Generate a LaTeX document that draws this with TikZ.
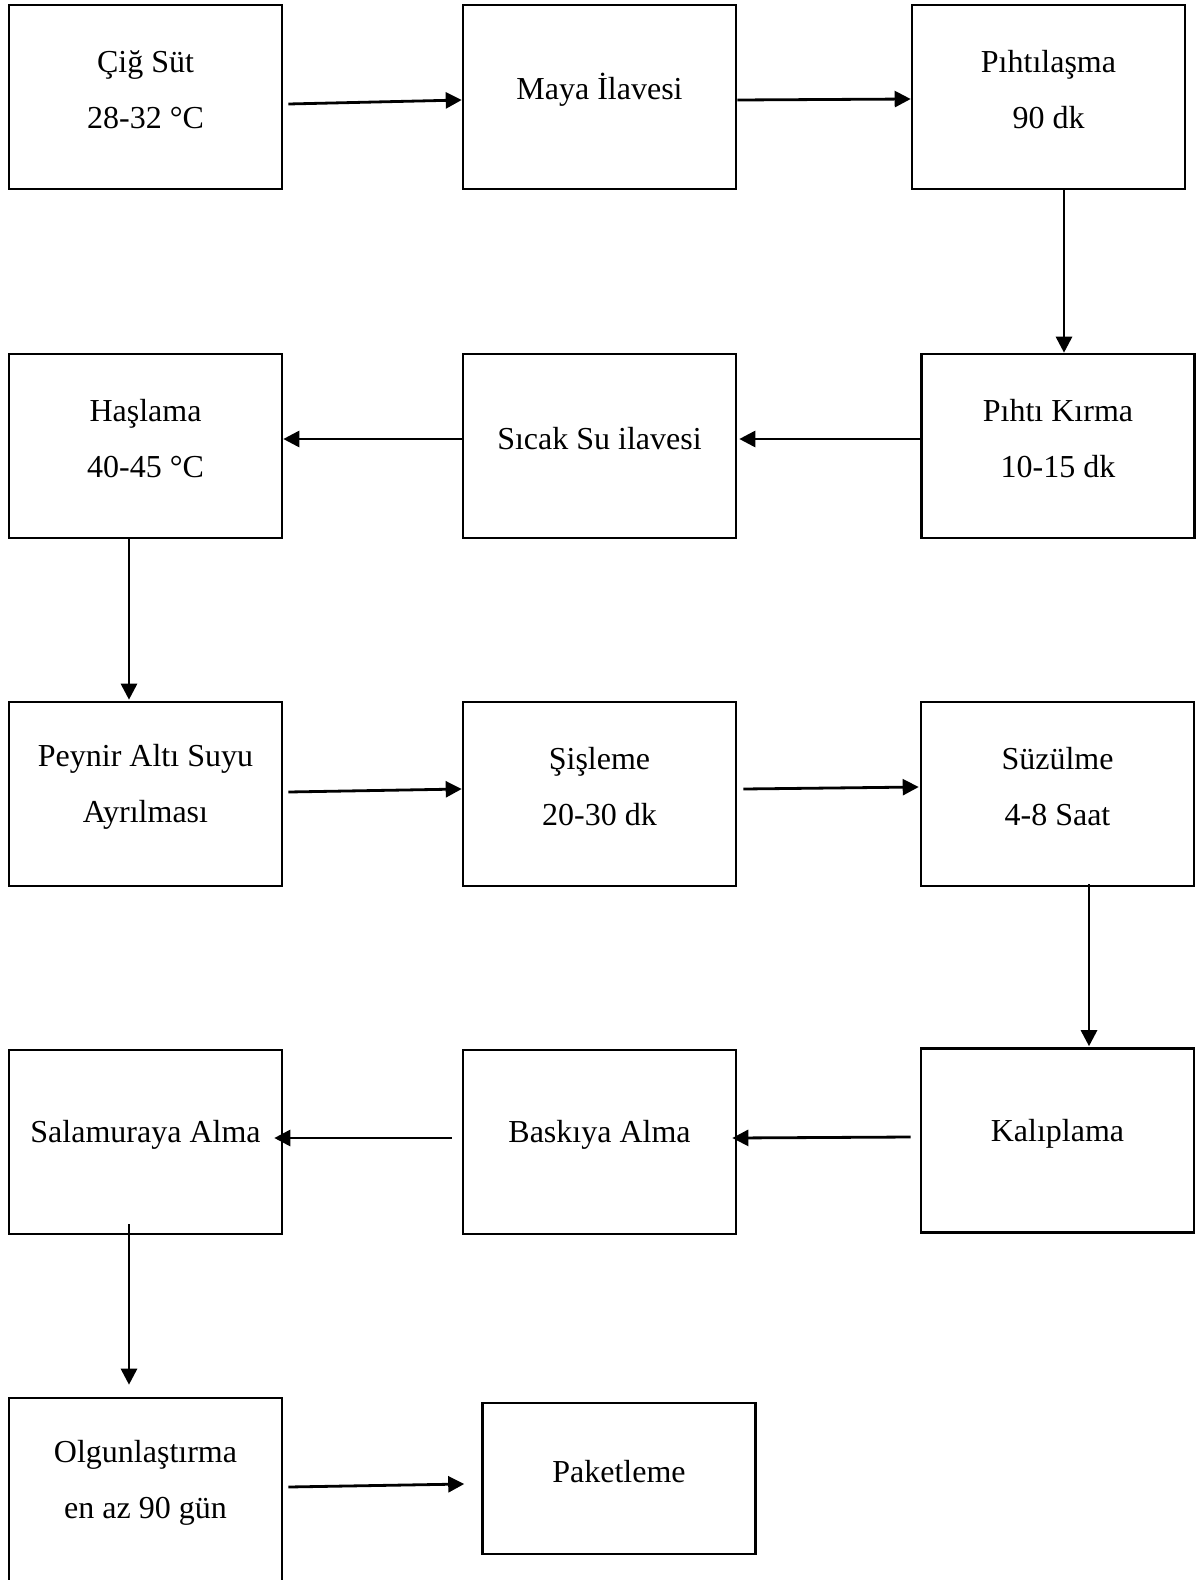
\documentclass[tikz,border=0pt]{standalone}
\usepackage{fontspec}
\setmainfont{Liberation Serif}
\usetikzlibrary{arrows.meta,calc}
\begin{document}
\begin{tikzpicture}[x=0.5pt,y=-0.5pt,
  box/.style={draw=black,line width=1.3pt,rectangle,minimum width=136.5pt,minimum height=92pt,inner sep=0pt},
  lbl/.style={font=\fontsize{16}{28}\selectfont,align=center,inner sep=0pt},
  arr/.style={draw=black,line width=1.4pt,-{Triangle[length=8pt,width=8pt]}}]
\useasboundingbox[fill=white] (0,0) rectangle (1197,1580);
% boxes
\node[box] (c1) at (145.5,97) {};
\node[box] (c2) at (599.5,97) {};
\node[box] (c3) at (1048.5,97) {};
\node[box] (c4) at (1058,446) {};
\node[box] (c5) at (599.5,446) {};
\node[box] (c6) at (145.5,446) {};
\node[box] (c7) at (145.5,794) {};
\node[box] (c8) at (599.5,794) {};
\node[box] (c9) at (1057.5,794) {};
\node[box] (c10) at (1057.5,1140.5) {};
\node[box] (c11) at (599.5,1142) {};
\node[box] (c12) at (145.5,1142) {};
\node[box] (c13) at (145.5,1490) {};
\node[box,minimum height=75.5pt] (c14) at (619,1478.5) {};
% labels
\node[lbl] (t1) at ($(c1.center)+(0,-7)$) {Çiğ Süt\\28-32 °C};
\node[lbl] (t2) at ($(c2.center)+(0,-7)$) {Maya İlavesi};
\node[lbl] (t3) at ($(c3.center)+(0,-7)$) {Pıhtılaşma\\90 dk};
\node[lbl] (t4) at ($(c4.center)+(0,-7)$) {Pıhtı Kırma\\10-15 dk};
\node[lbl] (t5) at ($(c5.center)+(0,-7)$) {Sıcak Su ilavesi};
\node[lbl] (t6) at ($(c6.center)+(0,-7)$) {Haşlama\\40-45 °C};
\node[lbl] (t7) at ($(c7.center)+(0,-7)$) {Peynir Altı Suyu\\Ayrılması};
\node[lbl] (t8) at ($(c8.center)+(0,-7)$) {Şişleme\\20-30 dk};
\node[lbl] (t9) at ($(c9.center)+(0,-7)$) {Süzülme\\4-8 Saat};
\node[lbl] (t10) at ($(c10.center)+(0,-7)$) {Kalıplama};
\node[lbl] (t11) at ($(c11.center)+(0,-7)$) {Baskıya Alma};
\node[lbl] (t12) at ($(c12.center)+(0,-7)$) {Salamuraya Alma};
\node[lbl] (t13) at ($(c13.center)+(0,-7)$) {Olgunlaştırma\\en az 90 gün};
\node[lbl] (t14) at ($(c14.center)+(0,-7)$) {Paketleme};
% connectors
\draw[arr] ($(c1.east)+(5,7)$) -- ($(c2.west)+(0,3)$);
\draw[arr] ($(c2.east)+(0,3)$) -- ($(c3.west)+(0,2)$);
\draw[arr] ($(c3.south)+(15.5,0)$) -- ($(c4.north)+(6,0)$);
\draw[arr] ($(c4.west)+(0,-7)$) -- ($(c5.east)+(2,-7)$);
\draw[arr] ($(c5.west)+(0,-7)$) -- ($(c6.east)+(0,-7)$);
\draw[arr] ($(c6.south)+(-16.5,0)$) -- ($(c7.north)+(-16.5,-1)$);
\draw[arr] ($(c7.east)+(5,-2)$) -- ($(c8.west)+(0,-5)$);
\draw[arr] ($(c8.east)+(6,-5)$) -- ($(c9.west)+(-1,-7)$);
\draw[arr] ($(c9.south)+(31.5,-3)$) -- ($(c10.north)+(31.5,-1)$);
\draw[arr] ($(c10.west)+(-9,-3.5)$) -- ($(c11.east)+(-5,-4)$);
\draw[arr] ($(c11.west)+(-10,-4)$) -- ($(c12.east)+(-9,-4)$);
\draw[arr] ($(c12.south)+(-16.5,-11)$) -- ($(c13.north)+(-16.5,-12)$);
\draw[arr] ($(c13.east)+(5,-3)$) -- ($(c14.west)+(-17,5.5)$);
\end{tikzpicture}
\end{document}
